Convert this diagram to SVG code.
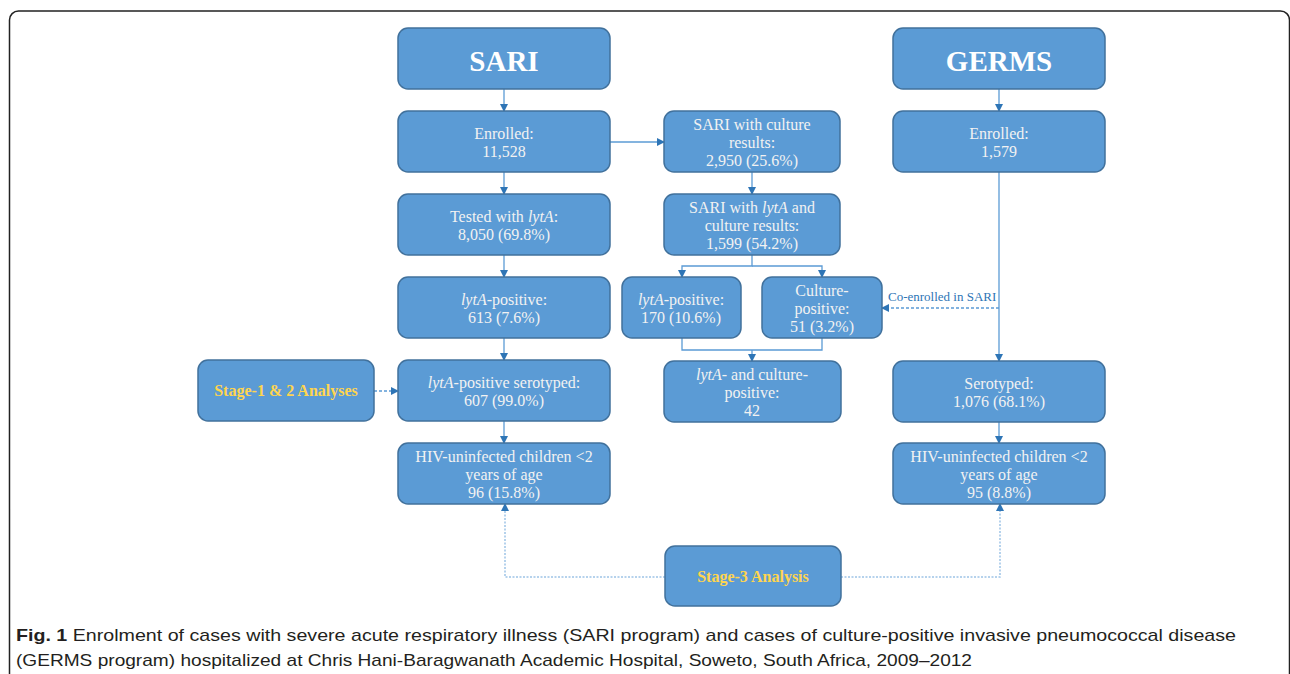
<svg xmlns="http://www.w3.org/2000/svg" width="1290" height="674" viewBox="0 0 1290 674">
<style>
.box{fill:#5b9bd5;stroke:#41719c;stroke-width:1.5}
.t{font-family:"Liberation Serif",serif;font-size:16px;fill:#f2f2f2;text-anchor:middle}
.title{font-family:"Liberation Serif",serif;font-size:29px;font-weight:bold;fill:#ffffff;text-anchor:middle}
.y{font-family:"Liberation Serif",serif;font-size:16px;font-weight:bold;fill:#ffd54f;text-anchor:middle}
.i{font-style:italic}
.c{fill:none;stroke:#5b9bd5;stroke-width:1.3}
.d{fill:none;stroke:#5b9bd5;stroke-width:1.3;stroke-dasharray:3 2}
.dt{fill:none;stroke:#9dc3e6;stroke-width:1.5;stroke-dasharray:2 1.5}
.cap{font-family:"Liberation Sans",sans-serif;font-size:17px;fill:#231f20}
.lbl{font-family:"Liberation Serif",serif;font-size:13px;fill:#2e75b6}
</style>
<defs>
<marker id="a" markerWidth="8" markerHeight="8" refX="7" refY="4" orient="auto" markerUnits="userSpaceOnUse">
<path d="M0,0 L8,4 L0,8 Z" fill="#2e75b6"/>
</marker>
</defs>
<rect x="9.5" y="11" width="1280" height="700" rx="9" fill="#ffffff" stroke="#222222" stroke-width="1.5"/>

<g id="connectors">
<path class="c" d="M504,89 V111" marker-end="url(#a)"/>
<path class="c" d="M504,172 V194" marker-end="url(#a)"/>
<path class="c" d="M504,255 V277" marker-end="url(#a)"/>
<path class="c" d="M504,338 V360" marker-end="url(#a)"/>
<path class="c" d="M504,421 V443" marker-end="url(#a)"/>
<path class="c" d="M610,142 H664" marker-end="url(#a)"/>
<path class="c" d="M752,172 V194" marker-end="url(#a)"/>
<path class="c" d="M752,255 V266 H682 V277" marker-end="url(#a)"/>
<path class="c" d="M752,266 H822 V277" marker-end="url(#a)"/>
<path class="c" d="M682,338 V350 H822 V338"/>
<path class="c" d="M752,350 V361" marker-end="url(#a)"/>
<path class="c" d="M999,89 V111" marker-end="url(#a)"/>
<path class="c" d="M999,172 V361" marker-end="url(#a)"/>
<path class="c" d="M999,421 V443" marker-end="url(#a)"/>
<path class="d" d="M999,308 H882" marker-end="url(#a)"/>
<path class="d" d="M374,391 H398" marker-end="url(#a)"/>
<path class="dt" d="M665,577 H505 V504" marker-end="url(#a)"/>
<path class="dt" d="M841,577 H1000 V504" marker-end="url(#a)"/>
<text class="lbl" x="888" y="301">Co-enrolled in SARI</text>
</g>

<g id="sari">
<rect class="box" x="398" y="28" width="212" height="61" rx="10"/>
<text class="title" x="504" y="71">SARI</text>
</g>
<g id="sari-enrolled">
<rect class="box" x="398" y="111" width="212" height="61" rx="10"/>
<text class="t" x="504" y="139">Enrolled:</text>
<text class="t" x="504" y="157">11,528</text>
</g>
<g id="sari-tested">
<rect class="box" x="398" y="194" width="212" height="61" rx="10"/>
<text class="t" x="504" y="222">Tested with <tspan class="i">lytA</tspan>:</text>
<text class="t" x="504" y="240">8,050 (69.8%)</text>
</g>
<g id="sari-lyta-pos">
<rect class="box" x="398" y="277" width="212" height="61" rx="10"/>
<text class="t" x="504" y="305"><tspan class="i">lytA</tspan>-positive:</text>
<text class="t" x="504" y="323">613 (7.6%)</text>
</g>
<g id="sari-serotyped">
<rect class="box" x="398" y="360" width="212" height="61" rx="10"/>
<text class="t" x="504" y="388"><tspan class="i">lytA</tspan>-positive serotyped:</text>
<text class="t" x="504" y="406">607 (99.0%)</text>
</g>
<g id="sari-hiv">
<rect class="box" x="398" y="443" width="212" height="61" rx="10"/>
<text class="t" x="504" y="462">HIV-uninfected children &lt;2</text>
<text class="t" x="504" y="480">years of age</text>
<text class="t" x="504" y="498">96 (15.8%)</text>
</g>
<g id="stage12">
<rect class="box" x="198" y="360" width="176" height="61" rx="10"/>
<text class="y" x="286" y="396">Stage-1 &amp; 2 Analyses</text>
</g>
<g id="sari-culture">
<rect class="box" x="664" y="111" width="176" height="61" rx="10"/>
<text class="t" x="752" y="130">SARI with culture</text>
<text class="t" x="752" y="148">results:</text>
<text class="t" x="752" y="166">2,950 (25.6%)</text>
</g>
<g id="sari-lyta-culture">
<rect class="box" x="664" y="194" width="176" height="61" rx="10"/>
<text class="t" x="752" y="213">SARI with <tspan class="i">lytA</tspan> and</text>
<text class="t" x="752" y="231">culture results:</text>
<text class="t" x="752" y="249">1,599 (54.2%)</text>
</g>
<g id="lyta-170">
<rect class="box" x="622" y="277" width="119" height="61" rx="10"/>
<text class="t" x="681" y="305"><tspan class="i">lytA</tspan>-positive:</text>
<text class="t" x="681" y="323">170 (10.6%)</text>
</g>
<g id="culture-51">
<rect class="box" x="762" y="277" width="120" height="61" rx="10"/>
<text class="t" x="822" y="296">Culture-</text>
<text class="t" x="822" y="314">positive:</text>
<text class="t" x="822" y="332">51 (3.2%)</text>
</g>
<g id="both-42">
<rect class="box" x="664" y="361" width="177" height="61" rx="10"/>
<text class="t" x="752" y="380"><tspan class="i">lytA</tspan>- and culture-</text>
<text class="t" x="752" y="398">positive:</text>
<text class="t" x="752" y="416">42</text>
</g>
<g id="germs">
<rect class="box" x="893" y="28" width="212" height="61" rx="10"/>
<text class="title" x="999" y="71">GERMS</text>
</g>
<g id="germs-enrolled">
<rect class="box" x="893" y="111" width="212" height="61" rx="10"/>
<text class="t" x="999" y="139">Enrolled:</text>
<text class="t" x="999" y="157">1,579</text>
</g>
<g id="germs-serotyped">
<rect class="box" x="893" y="361" width="212" height="61" rx="10"/>
<text class="t" x="999" y="389">Serotyped:</text>
<text class="t" x="999" y="407">1,076 (68.1%)</text>
</g>
<g id="germs-hiv">
<rect class="box" x="893" y="443" width="212" height="61" rx="10"/>
<text class="t" x="999" y="462">HIV-uninfected children &lt;2</text>
<text class="t" x="999" y="480">years of age</text>
<text class="t" x="999" y="498">95 (8.8%)</text>
</g>
<g id="stage3">
<rect class="box" x="665" y="546" width="176" height="60" rx="10"/>
<text class="y" x="753" y="582">Stage-3 Analysis</text>
</g>

<g id="caption">
<text class="cap" x="16" y="641" textLength="1220" lengthAdjust="spacingAndGlyphs"><tspan font-weight="bold">Fig. 1</tspan> Enrolment of cases with severe acute respiratory illness (SARI program) and cases of culture-positive invasive pneumococcal disease</text>
<text class="cap" x="16" y="666" textLength="956" lengthAdjust="spacingAndGlyphs">(GERMS program) hospitalized at Chris Hani-Baragwanath Academic Hospital, Soweto, South Africa, 2009–2012</text>
</g>
</svg>
